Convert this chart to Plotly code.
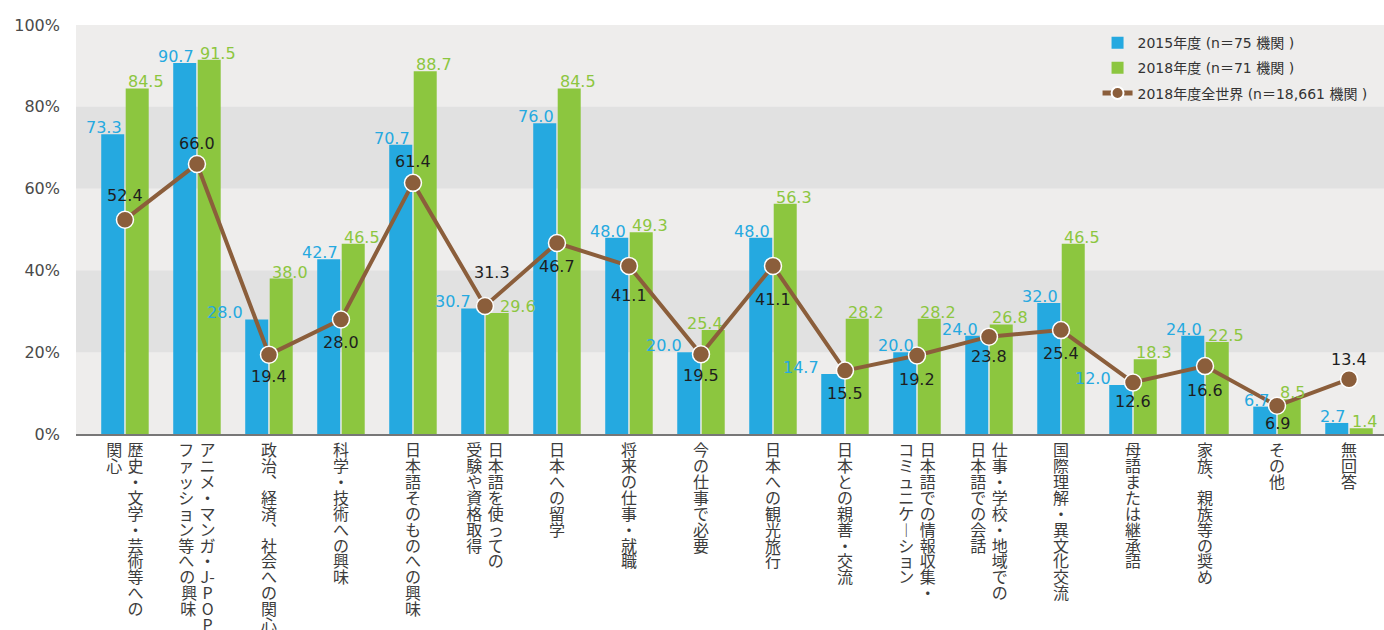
import re
import plotly.graph_objects as go

# ---------------- data ----------------
categories = [
    "歴史・文学・芸術等への|関心",
    "アニメ・マンガ・J-POP・|ファッション等への興味",
    "政治、経済、社会への関心",
    "科学・技術への興味",
    "日本語そのものへの興味",
    "日本語を使っての|受験や資格取得",
    "日本への留学",
    "将来の仕事・就職",
    "今の仕事で必要",
    "日本への観光旅行",
    "日本との親善・交流",
    "日本語での情報収集・|コミュニケーション",
    "仕事・学校・地域での|日本語での会話",
    "国際理解・異文化交流",
    "母語または継承語",
    "家族、親族等の奨め",
    "その他",
    "無回答",
]
values_2015 = [73.3, 90.7, 28.0, 42.7, 70.7, 30.7, 76.0, 48.0, 20.0, 48.0, 14.7, 20.0, 24.0, 32.0, 12.0, 24.0, 6.7, 2.7]
values_2018 = [84.5, 91.5, 38.0, 46.5, 88.7, 29.6, 84.5, 49.3, 25.4, 56.3, 28.2, 28.2, 26.8, 46.5, 18.3, 22.5, 8.5, 1.4]
values_world = [52.4, 66.0, 19.4, 28.0, 61.4, 31.3, 46.7, 41.1, 19.5, 41.1, 15.5, 19.2, 23.8, 25.4, 12.6, 16.6, 6.9, 13.4]
series_names = [
    "2015年度 (n＝75 機関 )",
    "2018年度 (n＝71 機関 )",
    "2018年度全世界 (n＝18,661 機関 )",
]
y_ticks = [0, 20, 40, 60, 80, 100]
y_tick_labels = ["0%", "20%", "40%", "60%", "80%", "100%"]

# ---------------- styles ----------------
BLUE = "#25a9e0"
GREEN = "#8cc63f"
BROWN = "#8b5e3b"
LIGHT_BG = "#eeedec"
DARK_BAND = "#e1e1e1"
TEXT = "#3c3c3c"
CJK = "Noto Sans CJK JP"
NUM = "DejaVu Sans, Noto Sans CJK JP"

# label nudges (pixels) – purely presentational
blue_dx = {2: -23.5, 5: -12, 8: -17, 10: -24, 12: -9, 14: -20, 16: -6, 17: -2}
green_dx = {5: 13, 8: -16}
world_dy = [23, 20, -23, -24, 20, 32, -24, -31, -22, -35, -24, -25, -21, -24, -20, -25, -19, 19]
world_dx = {5: 7}

VERT_MAP = {"、": "︑", "ー": "︱"}


def vertical_label(text):
    cols = [[VERT_MAP.get(t, t) for t in re.findall(r"J-|.", col)] for col in text.split("|")]
    n = max(len(c) for c in cols)
    lines = []
    for i in range(n):
        if len(cols) == 1:
            row = cols[0][i]
        else:
            right = cols[0][i] if i < len(cols[0]) else "\u3000"
            left = cols[1][i] if i < len(cols[1]) else "\u3000"
            row = left + "\u2004" + right
        lines.append('<span style="font-size:16px">' + row + "</span>")
    return "<br>".join(lines)


idx = list(range(len(categories)))

fig = go.Figure()
fig.add_trace(go.Bar(x=idx, y=values_2015, name=series_names[0], marker=dict(color=BLUE, line=dict(width=0)),
                     legendgroup="a"))
fig.add_trace(go.Bar(x=idx, y=values_2018, name=series_names[1], marker=dict(color=GREEN, line=dict(width=0)),
                     legendgroup="b"))
fig.add_trace(go.Scatter(x=idx, y=values_world, name=series_names[2], mode="lines+markers",
                         line=dict(color=BROWN, width=4),
                         marker=dict(color=BROWN, size=17, line=dict(color="white", width=1.5)),
                         legendgroup="c"))

annotations = []
for i in idx:
    annotations.append(dict(x=i, y=values_2015[i], xref="x", yref="y", text=f"{values_2015[i]:.1f}",
                            showarrow=False, xanchor="right", yanchor="bottom",
                            xshift=blue_dx.get(i, -1), yshift=-5,
                            font=dict(family=NUM, size=16, color=BLUE)))
    annotations.append(dict(x=i, y=values_2018[i], xref="x", yref="y", text=f"{values_2018[i]:.1f}",
                            showarrow=False, xanchor="left", yanchor="bottom",
                            xshift=green_dx.get(i, 1), yshift=-5,
                            font=dict(family=NUM, size=16, color=GREEN)))
    annotations.append(dict(x=i, y=values_world[i], xref="x", yref="y", text=f"{values_world[i]:.1f}",
                            showarrow=False, xanchor="center", yanchor="middle",
                            xshift=world_dx.get(i, 0), yshift=world_dy[i] + 1,
                            font=dict(family=NUM, size=16, color="#1e1e1e")))

shapes = []
for y0 in (20, 60):
    shapes.append(dict(type="rect", xref="paper", yref="y", x0=0, x1=1, y0=y0, y1=y0 + 20,
                       fillcolor=DARK_BAND, line=dict(width=0), layer="below"))

fig.update_layout(
    width=1384, height=630,
    margin=dict(l=76, r=0, t=25, b=196, autoexpand=False),
    paper_bgcolor="white",
    plot_bgcolor=LIGHT_BG,
    barmode="group",
    bargap=0.32,
    bargroupgap=0.06,
    font=dict(family=CJK, color=TEXT),
    shapes=shapes,
    annotations=annotations,
    showlegend=True,
    legend=dict(x=0.781, y=0.995, xanchor="left", yanchor="top", bgcolor="rgba(0,0,0,0)",
                font=dict(family=NUM, size=14, color="#333333"), tracegroupgap=4,
                itemsizing="constant", traceorder="grouped"),
)
fig.update_xaxes(range=[-0.68, 17.486], tickmode="array", tickvals=idx,
                 ticktext=[vertical_label(c) for c in categories], tickangle=0, automargin=False,
                 tickfont=dict(family=CJK, size=12.2, color=TEXT),
                 showgrid=False, zeroline=False, showline=True, linecolor="#777777", linewidth=1.5,
                 ticks="", ticklabelstandoff=6)
fig.update_yaxes(range=[0, 100], tickmode="array", tickvals=y_ticks, ticktext=y_tick_labels, automargin=False,
                 tickfont=dict(family=NUM, size=16, color="#4a4a4a"),
                 showgrid=False, zeroline=False, showline=False, ticks="", ticklabelstandoff=15)

fig.write_html("out.html", config={"displayModeBar": False},
               post_script="document.body.style.margin='0px';document.body.style.overflow='hidden';")
